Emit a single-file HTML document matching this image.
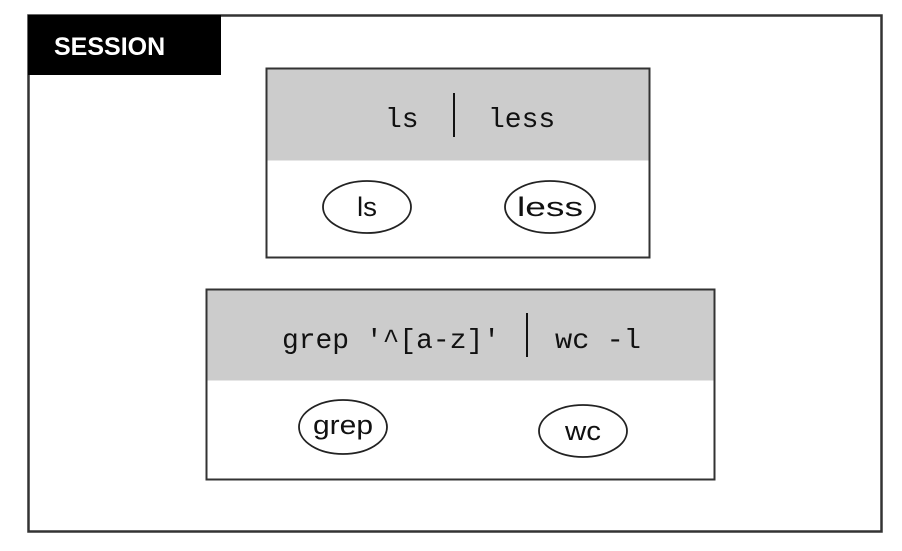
<!DOCTYPE html>
<html><head><style>
body{margin:0;background:#fff;}
</style></head><body>
<svg width="902" height="546" viewBox="0 0 902 546" xmlns="http://www.w3.org/2000/svg">
<rect x="0" y="0" width="902" height="546" fill="#fff"/>
<rect x="28.5" y="15.5" width="853" height="516" fill="#fff" stroke="#333" stroke-width="2.5"/>
<rect x="28" y="15" width="193" height="60" fill="#000"/>
<text x="54" y="55" font-family="Liberation Sans, sans-serif" font-weight="bold" font-size="25" fill="#fff">SESSION</text>

<rect x="266.5" y="68.5" width="383" height="189" fill="#fff" stroke="#333" stroke-width="2"/>
<rect x="267.5" y="69.5" width="381" height="91" fill="#cccccc"/>
<text x="385" y="127" font-family="Liberation Mono, monospace" font-size="28" fill="#111">ls</text>
<text x="488" y="127" font-family="Liberation Mono, monospace" font-size="28" fill="#111">less</text>
<line x1="454" y1="93" x2="454" y2="137" stroke="#111" stroke-width="2"/>
<ellipse cx="367" cy="207" rx="44" ry="26" fill="#fff" stroke="#222" stroke-width="1.8"/>
<text x="367" y="216" text-anchor="middle" font-family="Liberation Sans, sans-serif" font-size="27" fill="#111" textLength="20" lengthAdjust="spacingAndGlyphs">ls</text>
<ellipse cx="550" cy="207" rx="45" ry="26" fill="#fff" stroke="#222" stroke-width="1.8"/>
<text x="550" y="216" text-anchor="middle" font-family="Liberation Sans, sans-serif" font-size="27" fill="#111" textLength="66" lengthAdjust="spacingAndGlyphs">less</text>

<rect x="206.5" y="289.5" width="508" height="190" fill="#fff" stroke="#333" stroke-width="2"/>
<rect x="207.5" y="290.5" width="506" height="90" fill="#cccccc"/>
<text x="282" y="348" font-family="Liberation Mono, monospace" font-size="28" fill="#111" textLength="218" lengthAdjust="spacingAndGlyphs">grep '^[a-z]'</text>
<text x="555" y="348" font-family="Liberation Mono, monospace" font-size="28" fill="#111" textLength="86" lengthAdjust="spacingAndGlyphs">wc -l</text>
<line x1="527" y1="313" x2="527" y2="357" stroke="#111" stroke-width="2"/>
<ellipse cx="343" cy="427" rx="44" ry="27" fill="#fff" stroke="#222" stroke-width="1.8"/>
<text x="343" y="434" text-anchor="middle" font-family="Liberation Sans, sans-serif" font-size="27" fill="#111" textLength="60" lengthAdjust="spacingAndGlyphs">grep</text>
<ellipse cx="583" cy="431" rx="44" ry="26" fill="#fff" stroke="#222" stroke-width="1.8"/>
<text x="583" y="440" text-anchor="middle" font-family="Liberation Sans, sans-serif" font-size="27" fill="#111" textLength="36" lengthAdjust="spacingAndGlyphs">wc</text>
</svg>
</body></html>
